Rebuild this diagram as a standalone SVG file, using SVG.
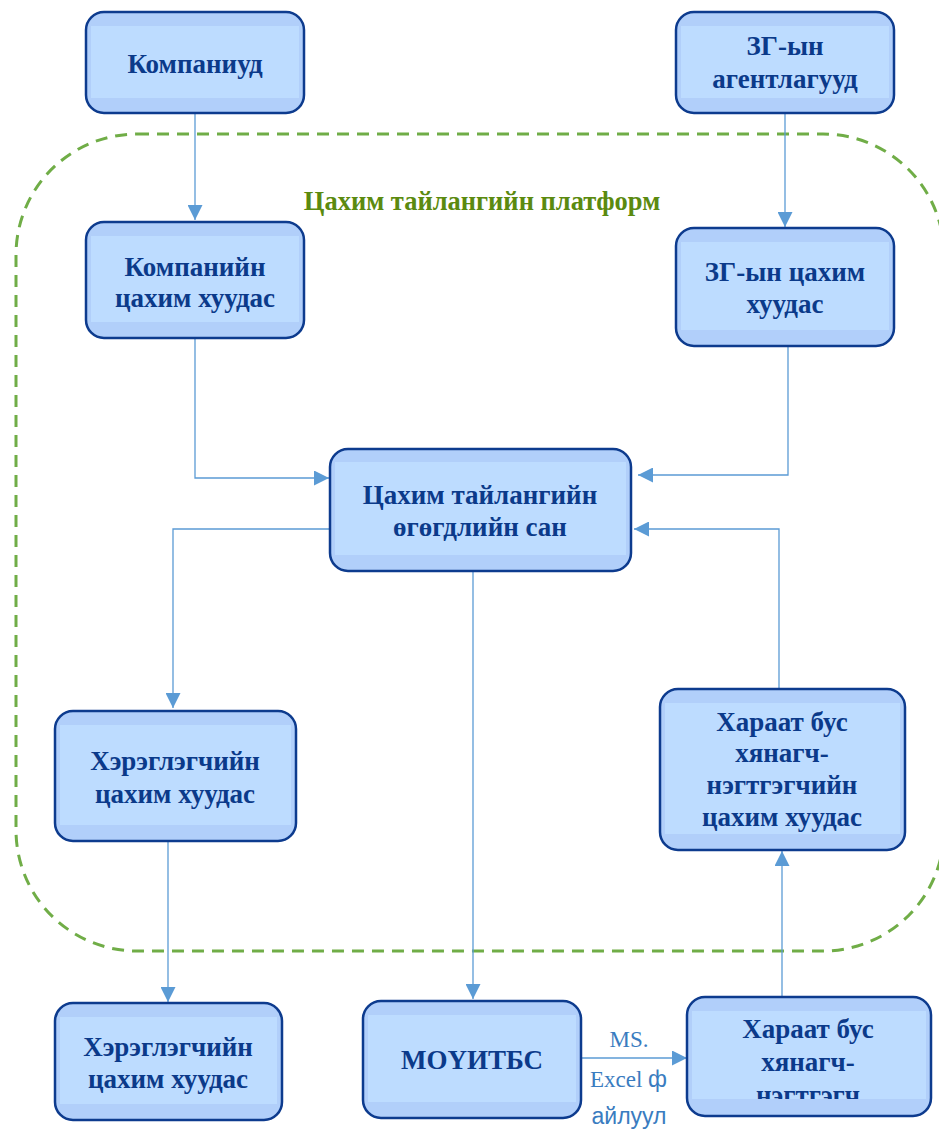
<svg xmlns="http://www.w3.org/2000/svg" width="939" height="1129" viewBox="0 0 939 1129">
<style>
.box{fill:#b1cffa;stroke:#0d3b8e;stroke-width:2.5}
.inner{fill:#bddcff}
.t{font-family:"Liberation Serif","Times New Roman",serif;font-weight:bold;font-size:27px;fill:#0b3a8a;text-anchor:middle}
.c{fill:none;stroke:#5b9bd5;stroke-width:1.3}
.lbl{font-family:"Liberation Serif","Times New Roman",serif;font-size:23px;fill:#3a7cc0}
.lbls{font-family:"Liberation Sans",Arial,sans-serif;font-size:23px;fill:#3a7cc0}
</style>
<defs>
<marker id="ah" viewBox="0 0 10 10" refX="10" refY="5" markerWidth="15" markerHeight="15" markerUnits="userSpaceOnUse" orient="auto">
<path d="M0,0 L10,5 L0,10 Z" fill="#5b9bd5"/>
</marker>
<clipPath id="clip10"><rect x="687" y="997" width="245" height="102"/></clipPath>
</defs>
<rect width="939" height="1129" fill="#ffffff"/>
<rect id="platform" x="16" y="134" width="928" height="817" rx="121" fill="none" stroke="#70ad47" stroke-width="3" stroke-dasharray="12 8"/>
<text x="482" y="210" font-family="Liberation Serif,Times New Roman,serif" font-weight="bold" font-size="26.5" fill="#5b8a0f" text-anchor="middle">Цахим тайлангийн платформ</text>

<g id="connectors">
<path class="c" d="M195,113 L195,220" marker-end="url(#ah)"/>
<path class="c" d="M785,113 L785,227" marker-end="url(#ah)"/>
<path class="c" d="M195,338 L195,478 L329,478" marker-end="url(#ah)"/>
<path class="c" d="M788,346 L788,475 L638,475" marker-end="url(#ah)"/>
<path class="c" d="M330,529 L173,529 L173,708" marker-end="url(#ah)"/>
<path class="c" d="M473,571 L473,999" marker-end="url(#ah)"/>
<path class="c" d="M779,689 L779,529 L634,529" marker-end="url(#ah)"/>
<path class="c" d="M168,841 L168,1002" marker-end="url(#ah)"/>
<path class="c" d="M782,997 L782,851" marker-end="url(#ah)"/>
<path class="c" d="M581,1058 L687,1058" marker-end="url(#ah)"/>
<text class="lbl" x="629" y="1047" text-anchor="middle">MS.</text>
<text x="590" y="1087"><tspan class="lbl">Excel </tspan><tspan class="lbls">ф</tspan></text>
<text class="lbls" x="629" y="1124" text-anchor="middle">айлуул</text>
</g>

<g id="n1">
<rect class="box" x="86" y="12" width="218" height="101" rx="18"/>
<rect class="inner" x="91" y="26" width="208" height="72"/>
<text class="t" x="195" y="73">Компаниуд</text>
</g>
<g id="n2">
<rect class="box" x="676" y="12" width="218" height="101" rx="18"/>
<rect class="inner" x="681" y="26" width="208" height="72"/>
<text class="t" x="785" y="55">ЗГ-ын</text>
<text class="t" x="785" y="88">агентлагууд</text>
</g>
<g id="n3">
<rect class="box" x="86" y="222" width="218" height="116" rx="18"/>
<rect class="inner" x="91" y="236" width="208" height="86"/>
<text class="t" x="195" y="276">Компанийн</text>
<text class="t" x="195" y="307">цахим хуудас</text>
</g>
<g id="n4">
<rect class="box" x="676" y="228" width="218" height="118" rx="18"/>
<rect class="inner" x="681" y="242" width="208" height="88"/>
<text class="t" x="785" y="281">ЗГ-ын цахим</text>
<text class="t" x="785" y="313">хуудас</text>
</g>
<g id="n5">
<rect class="box" x="330" y="449" width="301" height="122" rx="18"/>
<rect class="inner" x="335" y="462" width="291" height="93"/>
<text class="t" x="480" y="504">Цахим тайлангийн</text>
<text class="t" x="480" y="536">өгөгдлийн сан</text>
</g>
<g id="n6">
<rect class="box" x="55" y="711" width="241" height="130" rx="18"/>
<rect class="inner" x="60" y="725" width="231" height="100"/>
<text class="t" x="175" y="770">Хэрэглэгчийн</text>
<text class="t" x="175" y="803">цахим хуудас</text>
</g>
<g id="n7">
<rect class="box" x="660" y="689" width="245" height="161" rx="18"/>
<rect class="inner" x="665" y="703" width="235" height="131"/>
<text class="t" x="782" y="731">Хараат бус</text>
<text class="t" x="782" y="762">хянагч-</text>
<text class="t" x="782" y="794">нэгтгэгчийн</text>
<text class="t" x="782" y="826">цахим хуудас</text>
</g>
<g id="n8">
<rect class="box" x="55" y="1003" width="227" height="117" rx="18"/>
<rect class="inner" x="60" y="1017" width="217" height="87"/>
<text class="t" x="168" y="1056">Хэрэглэгчийн</text>
<text class="t" x="168" y="1088">цахим хуудас</text>
</g>
<g id="n9">
<rect class="box" x="363" y="1001" width="218" height="117" rx="18"/>
<rect class="inner" x="368" y="1015" width="208" height="87"/>
<text class="t" x="472" y="1069">МОҮИТБС</text>
</g>
<g id="n10">
<rect class="box" x="687" y="997" width="244" height="119" rx="18"/>
<rect class="inner" x="692" y="1011" width="234" height="88"/>
<g clip-path="url(#clip10)">
<text class="t" x="808" y="1038">Хараат бус</text>
<text class="t" x="808" y="1071">хянагч-</text>
<text class="t" x="808" y="1104">нэгтгэгч</text>
</g>
</g>
</svg>
